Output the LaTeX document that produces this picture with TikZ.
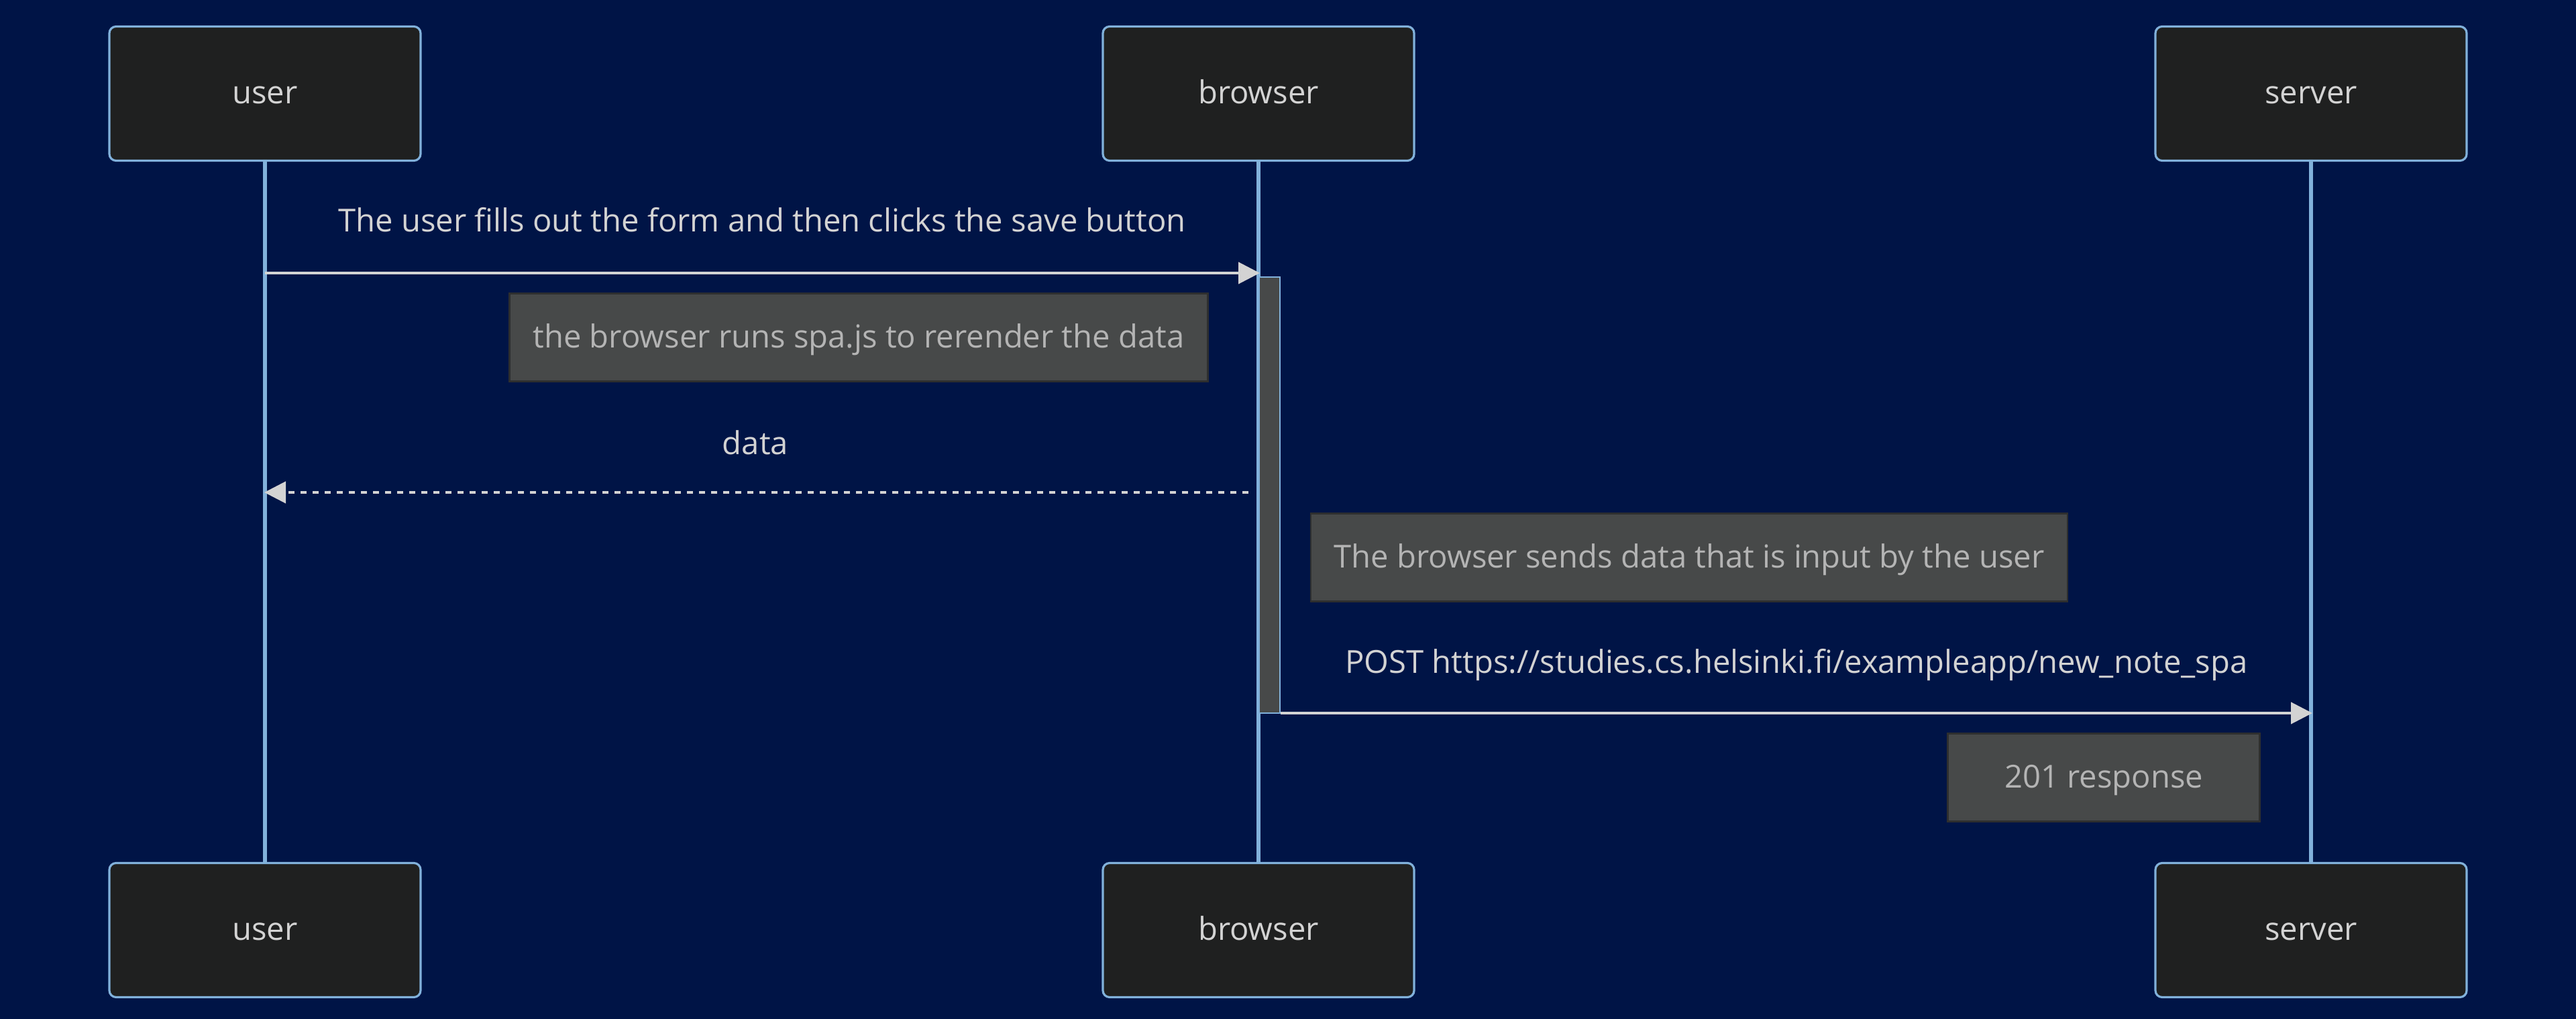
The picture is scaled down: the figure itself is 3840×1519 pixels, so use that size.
\documentclass[tikz,border=0pt]{standalone}
\usepackage{fontspec}
\setmainfont{Open Sans}
\usepackage{tikz}
\usetikzlibrary{arrows.meta, positioning, calc}

\definecolor{bgnavy}{HTML}{001446}
\definecolor{actorfill}{HTML}{1F2020}
\definecolor{actorline}{HTML}{81B1DB}
\definecolor{notefill}{HTML}{474949}
\definecolor{noteline}{HTML}{2E2F2F}
\definecolor{sigline}{HTML}{D3D3D3}
\definecolor{notetext}{HTML}{B4B4B4}

\newcommand{\seqfont}{\fontsize{23.6}{28}\selectfont}

\tikzstyle{actor} = [
  rectangle, draw=actorline, fill=actorfill, line width=1.6pt,
  minimum width=232pt, minimum height=100pt,
  rounded corners=5pt, text=sigline, font=\seqfont,
  text height=20pt, text depth=5pt
]
\tikzstyle{note} = [
  rectangle, draw=noteline, fill=notefill, line width=1.2pt,
  minimum height=65.5pt, text=notetext, font=\seqfont,
  text height=20pt, text depth=5pt
]
\tikzstyle{lifeline} = [draw=actorline, line width=3pt]
\tikzstyle{activation} = [
  rectangle, draw=actorline, fill=notefill, line width=1pt,
  minimum width=15.5pt, minimum height=325pt, inner sep=0pt
]
\tikzstyle{msg} = [sigline, line width=2pt, -{Triangle[length=16pt, width=16pt]}]
\tikzstyle{reply} = [msg, dash pattern=on 4.5pt off 4.5pt]
\tikzstyle{msglabel} = [text=sigline, font=\seqfont,
  text height=20pt, text depth=5pt]

\begin{document}
\begin{tikzpicture}[x=0.5pt, y=-0.5pt]

  \path[fill=bgnavy, use as bounding box] (0,0) rectangle (3840,1519);

  % Actors
  \node[actor] (userTop) at (395, 139.5) {user};
  \node[actor] (browserTop) at (1876, 139.5) {browser};
  \node[actor] (serverTop) at (3445, 139.5) {server};
  \node[actor] (userBot) at (395, 1386.5) {user};
  \node[actor] (browserBot) at (1876, 1386.5) {browser};
  \node[actor] (serverBot) at (3445, 1386.5) {server};

  % Lifelines
  \foreach \a in {user, browser, server}
    \draw[lifeline] (\a Top.south) -- (\a Bot.north);

  % Activation of the browser
  \node[activation] (act) at (1892.5, 738) {};

  % Message end points
  \coordinate (u1) at (395, 407);
  \coordinate (b1) at (1878, 407);
  \coordinate (b2) at (1861, 734);
  \coordinate (u2) at (394, 734);
  \coordinate (b3) at (act.east |- 0,1063);
  \coordinate (s3) at (3447, 1063);

  % Messages
  \draw[msg] (u1) -- (b1);
  \node[msglabel] (lbl1) at (1136, 331) {The user fills out the form and then clicks the save button};

  \draw[reply] (b2) -- (u2);
  \node[msglabel] (lbl2) at (1126, 662) {data};

  \draw[msg] (b3) -- (s3);
  \node[msglabel] (lbl3) at (2678, 988) {POST https://studies.cs.helsinki.fi/exampleapp/new\_note\_spa};

  % Notes
  \node[note, minimum width=520.5pt] (note1) at (1280, 503) {the browser runs spa.js to rerender the data};
  \node[note, minimum width=564pt] (note2) at (2518, 831) {The browser sends data that is input by the user};
  \node[note, minimum width=232.5pt] (note3) at (3136, 1159) {201 response};

\end{tikzpicture}
\end{document}
